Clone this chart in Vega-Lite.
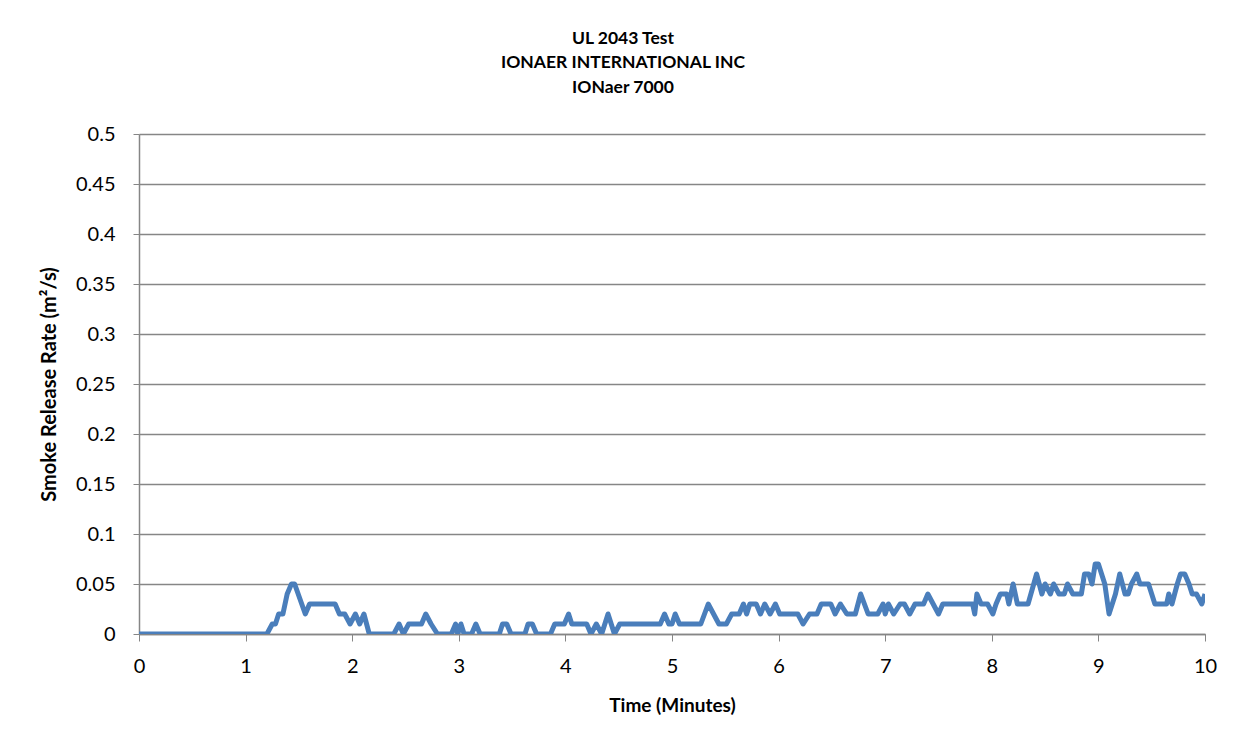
{
  "$schema": "https://vega.github.io/schema/vega-lite/v6.json",
  "width": 1066,
  "height": 500,
  "autosize": {"type": "none"},
  "padding": {"left": 139, "top": 134, "right": 42, "bottom": 118},
  "background": "white",
  "title": {
    "text": ["UL 2043 Test", "IONAER INTERNATIONAL INC", "IONaer 7000"],
    "font": "Lato",
    "fontSize": 17.5,
    "fontWeight": "bold",
    "color": "black",
    "lineHeight": 24.5,
    "anchor": "middle",
    "frame": "group",
    "dx": -49,
    "offset": 28
  },
  "data": {
    "values": [
      {"t": 0, "v": 0}, {"t": 1.2, "v": 0}, {"t": 1.25, "v": 0.01}, {"t": 1.28, "v": 0.01},
      {"t": 1.31, "v": 0.02}, {"t": 1.35, "v": 0.02}, {"t": 1.39, "v": 0.04}, {"t": 1.43, "v": 0.05},
      {"t": 1.46, "v": 0.05}, {"t": 1.56, "v": 0.02}, {"t": 1.6, "v": 0.03}, {"t": 1.84, "v": 0.03},
      {"t": 1.88, "v": 0.02}, {"t": 1.93, "v": 0.02}, {"t": 1.98, "v": 0.01}, {"t": 2.03, "v": 0.02},
      {"t": 2.07, "v": 0.01}, {"t": 2.11, "v": 0.02}, {"t": 2.16, "v": 0}, {"t": 2.39, "v": 0},
      {"t": 2.44, "v": 0.01}, {"t": 2.48, "v": 0}, {"t": 2.53, "v": 0.01}, {"t": 2.65, "v": 0.01},
      {"t": 2.69, "v": 0.02}, {"t": 2.74, "v": 0.01}, {"t": 2.8, "v": 0}, {"t": 2.93, "v": 0},
      {"t": 2.97, "v": 0.01}, {"t": 2.99, "v": 0}, {"t": 3.02, "v": 0.01}, {"t": 3.05, "v": 0},
      {"t": 3.12, "v": 0}, {"t": 3.16, "v": 0.01}, {"t": 3.2, "v": 0}, {"t": 3.38, "v": 0},
      {"t": 3.41, "v": 0.01}, {"t": 3.45, "v": 0.01}, {"t": 3.49, "v": 0}, {"t": 3.62, "v": 0},
      {"t": 3.65, "v": 0.01}, {"t": 3.69, "v": 0.01}, {"t": 3.73, "v": 0}, {"t": 3.86, "v": 0},
      {"t": 3.9, "v": 0.01}, {"t": 3.99, "v": 0.01}, {"t": 4.03, "v": 0.02}, {"t": 4.06, "v": 0.01},
      {"t": 4.2, "v": 0.01}, {"t": 4.24, "v": 0}, {"t": 4.29, "v": 0.01}, {"t": 4.34, "v": 0},
      {"t": 4.4, "v": 0.02}, {"t": 4.46, "v": 0}, {"t": 4.51, "v": 0.01}, {"t": 4.89, "v": 0.01},
      {"t": 4.93, "v": 0.02}, {"t": 4.97, "v": 0.01}, {"t": 5.0, "v": 0.01}, {"t": 5.03, "v": 0.02},
      {"t": 5.07, "v": 0.01}, {"t": 5.27, "v": 0.01}, {"t": 5.34, "v": 0.03}, {"t": 5.39, "v": 0.02},
      {"t": 5.44, "v": 0.01}, {"t": 5.51, "v": 0.01}, {"t": 5.56, "v": 0.02}, {"t": 5.63, "v": 0.02},
      {"t": 5.67, "v": 0.03}, {"t": 5.7, "v": 0.02}, {"t": 5.73, "v": 0.03}, {"t": 5.79, "v": 0.03},
      {"t": 5.83, "v": 0.02}, {"t": 5.87, "v": 0.03}, {"t": 5.92, "v": 0.02}, {"t": 5.97, "v": 0.03},
      {"t": 6.01, "v": 0.02}, {"t": 6.18, "v": 0.02}, {"t": 6.23, "v": 0.01}, {"t": 6.29, "v": 0.02},
      {"t": 6.36, "v": 0.02}, {"t": 6.4, "v": 0.03}, {"t": 6.49, "v": 0.03}, {"t": 6.53, "v": 0.02},
      {"t": 6.58, "v": 0.03}, {"t": 6.64, "v": 0.02}, {"t": 6.72, "v": 0.02}, {"t": 6.77, "v": 0.04},
      {"t": 6.84, "v": 0.02}, {"t": 6.93, "v": 0.02}, {"t": 6.98, "v": 0.03}, {"t": 7.0, "v": 0.02},
      {"t": 7.03, "v": 0.03}, {"t": 7.08, "v": 0.02}, {"t": 7.14, "v": 0.03}, {"t": 7.18, "v": 0.03},
      {"t": 7.23, "v": 0.02}, {"t": 7.28, "v": 0.03}, {"t": 7.36, "v": 0.03}, {"t": 7.4, "v": 0.04},
      {"t": 7.45, "v": 0.03}, {"t": 7.5, "v": 0.02}, {"t": 7.54, "v": 0.03}, {"t": 7.82, "v": 0.03},
      {"t": 7.84, "v": 0.02}, {"t": 7.86, "v": 0.04}, {"t": 7.9, "v": 0.03}, {"t": 7.96, "v": 0.03},
      {"t": 8.01, "v": 0.02}, {"t": 8.04, "v": 0.03}, {"t": 8.08, "v": 0.04}, {"t": 8.14, "v": 0.04},
      {"t": 8.16, "v": 0.03}, {"t": 8.2, "v": 0.05}, {"t": 8.24, "v": 0.03}, {"t": 8.34, "v": 0.03},
      {"t": 8.42, "v": 0.06}, {"t": 8.47, "v": 0.04}, {"t": 8.5, "v": 0.05}, {"t": 8.55, "v": 0.04},
      {"t": 8.58, "v": 0.05}, {"t": 8.63, "v": 0.04}, {"t": 8.68, "v": 0.04}, {"t": 8.71, "v": 0.05},
      {"t": 8.76, "v": 0.04}, {"t": 8.84, "v": 0.04}, {"t": 8.87, "v": 0.06}, {"t": 8.91, "v": 0.06},
      {"t": 8.94, "v": 0.05}, {"t": 8.97, "v": 0.07}, {"t": 9.0, "v": 0.07}, {"t": 9.03, "v": 0.06},
      {"t": 9.06, "v": 0.05}, {"t": 9.1, "v": 0.02}, {"t": 9.16, "v": 0.04}, {"t": 9.2, "v": 0.06},
      {"t": 9.25, "v": 0.04}, {"t": 9.28, "v": 0.04}, {"t": 9.31, "v": 0.05}, {"t": 9.36, "v": 0.06},
      {"t": 9.39, "v": 0.05}, {"t": 9.47, "v": 0.05}, {"t": 9.5, "v": 0.04}, {"t": 9.53, "v": 0.03},
      {"t": 9.64, "v": 0.03}, {"t": 9.66, "v": 0.04}, {"t": 9.69, "v": 0.03}, {"t": 9.74, "v": 0.05},
      {"t": 9.77, "v": 0.06}, {"t": 9.81, "v": 0.06}, {"t": 9.85, "v": 0.05}, {"t": 9.88, "v": 0.04},
      {"t": 9.92, "v": 0.04}, {"t": 9.97, "v": 0.03}, {"t": 10.0, "v": 0.04}
    ]
  },
  "mark": {"type": "line", "color": "#4A7EBB", "strokeWidth": 5, "strokeJoin": "round", "clip": true},
  "encoding": {
    "x": {
      "field": "t",
      "type": "quantitative",
      "scale": {"domain": [0, 10], "nice": false, "zero": false},
      "axis": {
        "title": "Time (Minutes)",
        "values": [0, 1, 2, 3, 4, 5, 6, 7, 8, 9, 10],
        "format": "d",
        "grid": false,
        "labelFlush": false,
        "tickSize": 7,
        "tickColor": "#868686",
        "domainColor": "#868686",
        "domainWidth": 1.5,
        "labelFont": "Lato",
        "labelFontSize": 20,
        "labelColor": "black",
        "labelPadding": 15,
        "titleFont": "Lato",
        "titleFontSize": 19,
        "titleFontWeight": "bold",
        "titleColor": "black",
        "titlePadding": 20
      }
    },
    "y": {
      "field": "v",
      "type": "quantitative",
      "scale": {"domain": [0, 0.5], "nice": false},
      "axis": {
        "title": "Smoke Release Rate (m²/s)",
        "values": [0, 0.05, 0.1, 0.15, 0.2, 0.25, 0.3, 0.35, 0.4, 0.45, 0.5],
        "format": "~g",
        "grid": true,
        "labelFlush": false,
        "gridColor": "#868686",
        "gridWidth": 1.5,
        "tickSize": 6,
        "tickColor": "#868686",
        "domainColor": "#868686",
        "domainWidth": 1.5,
        "labelFont": "Lato",
        "labelFontSize": 20,
        "labelColor": "black",
        "labelPadding": 18,
        "titleFont": "Lato",
        "titleFontSize": 20,
        "titleFontWeight": "bold",
        "titleColor": "black",
        "titlePadding": 16
      }
    }
  },
  "config": {"view": {"stroke": null}}
}
